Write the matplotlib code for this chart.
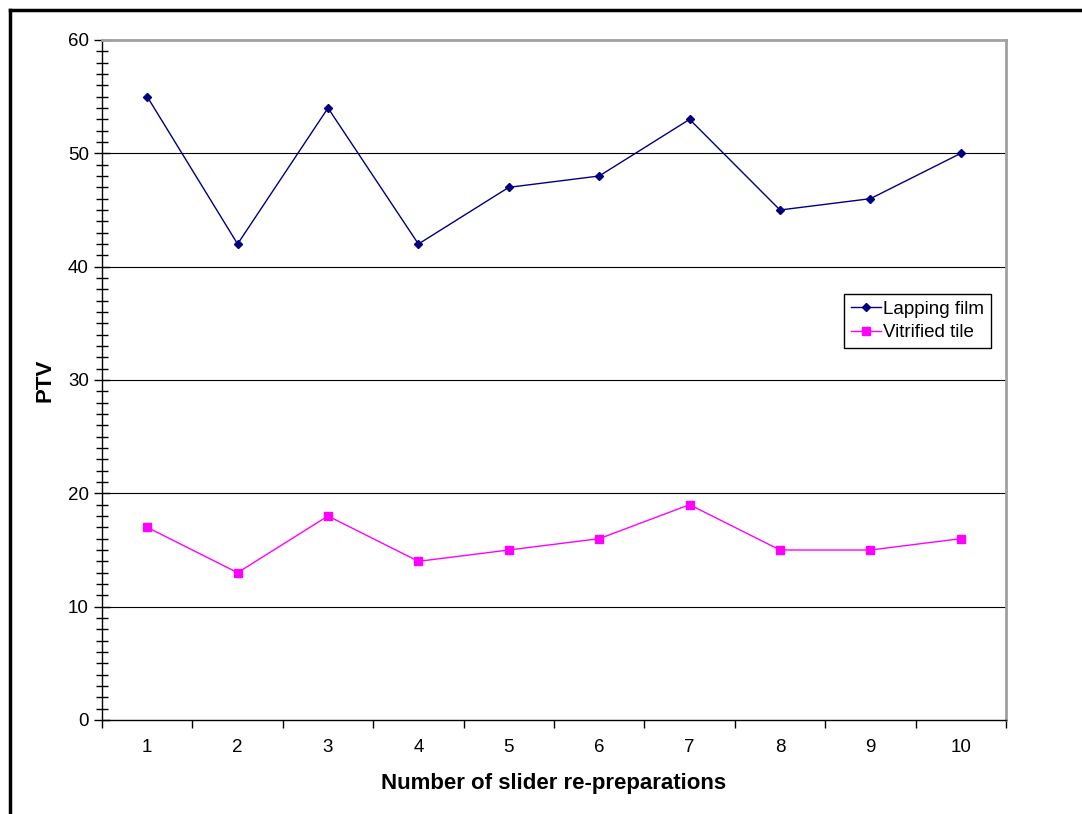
import matplotlib
matplotlib.use("Agg")
import matplotlib.pyplot as plt
from matplotlib.lines import Line2D
from matplotlib.ticker import MultipleLocator, FixedLocator

plt.rcParams['font.family'] = ['Liberation Sans', 'DejaVu Sans']

# data
preparations = [1, 2, 3, 4, 5, 6, 7, 8, 9, 10]
lapping_film = [55, 42, 54, 42, 47, 48, 53, 45, 46, 50]
vitrified_tile = [17, 13, 18, 14, 15, 16, 19, 15, 15, 16]

W, H = 1082, 814
fig = plt.figure(figsize=(W / 100, H / 100), dpi=100)
ax = fig.add_axes([102 / W, 1 - 720 / H, (1006 - 102) / W, (720 - 40) / H])

# outer chart frame (left and top edges visible)
fig.add_artist(Line2D([10 / W, 10 / W], [0, 1 - 10 / H], color='black', lw=2.5,
                      transform=fig.transFigure))
fig.add_artist(Line2D([10 / W, 1], [1 - 10 / H, 1 - 10 / H], color='black', lw=2.5,
                      transform=fig.transFigure))

# gridlines
for y in range(10, 60, 10):
    ax.axhline(y, color='black', lw=0.8, zorder=1)

ax.plot(preparations, lapping_film, color='#000080', lw=1, marker='D',
        markersize=4.5, label='Lapping film', zorder=3)
ax.plot(preparations, vitrified_tile, color='#FF00FF', lw=1, marker='s',
        markersize=5.5, label='Vitrified tile', zorder=3)

ax.set_xlim(0.5, 10.5)
ax.set_ylim(0, 60)

ax.yaxis.set_major_locator(MultipleLocator(10))
ax.yaxis.set_minor_locator(MultipleLocator(1))
ax.tick_params(axis='y', which='major', direction='inout', length=11, width=1,
               labelsize=13.5, pad=4)
ax.tick_params(axis='y', which='minor', direction='inout', length=8, width=1)

ax.set_xticks(preparations)
ax.xaxis.set_minor_locator(FixedLocator([p + 0.5 for p in range(0, 11)]))
ax.tick_params(axis='x', which='major', length=0, labelsize=13.5, pad=14)
ax.tick_params(axis='x', which='minor', direction='out', length=6, width=1)

for side in ['top', 'right']:
    ax.spines[side].set_color('#a0a0a0')
    ax.spines[side].set_linewidth(2)
for side in ['left', 'bottom']:
    ax.spines[side].set_color('black')
    ax.spines[side].set_linewidth(1)

ax.set_xlabel('Number of slider re-preparations', fontsize=16,
              fontweight='bold', labelpad=12)
ax.set_ylabel('PTV', fontsize=16, fontweight='bold', labelpad=9)

leg = ax.legend(loc='upper left', bbox_to_anchor=((844 - 102) / 904, 1 - (294 - 40) / 680),
                fontsize=13.5, frameon=True, fancybox=False, framealpha=1,
                edgecolor='black', borderpad=0.35, labelspacing=0.35,
                handlelength=1.6, handletextpad=0.15, borderaxespad=0)
leg.get_frame().set_linewidth(1)

fig.savefig('out.png', dpi=100)
